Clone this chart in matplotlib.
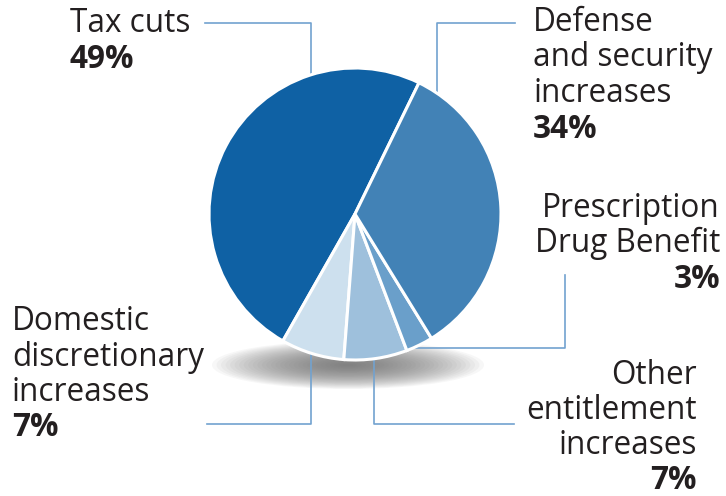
import matplotlib.pyplot as plt
from matplotlib.patches import Ellipse
import numpy as np

# shares of the cost, in pie order (counter-clockwise from the top right)
labels = ['Tax cuts', 'Domestic\ndiscretionary\nincreases', 'Other\nentitlement\nincreases',
          'Prescription\nDrug Benefit', 'Defense\nand security\nincreases']
shares = [49, 7, 7, 3, 34]
colors = ['#0f61a4', '#cde0ee', '#9ec0dc', '#6a9fca', '#4282b6']

W, H = 726, 496
cx, cy, r = 355, H - 214, 146

fig = plt.figure(figsize=(7.26, 4.96), dpi=100)
ax = fig.add_axes([0, 0, 1, 1])

# soft shadow under the pie
for k in range(30):
    f = 1 - k / 30
    ax.add_patch(Ellipse((348, H - 365), 272 * f, 48 * f, color='#6a6a6a',
                         alpha=0.05, lw=0, zorder=0))

wedges, _ = ax.pie(shares, colors=colors, startangle=64, center=(cx, cy), radius=r,
                   wedgeprops=dict(edgecolor='white', linewidth=2.2))
for w in wedges:
    w.set_zorder(2)

ax.set_xlim(0, W)
ax.set_ylim(0, H)
ax.set_aspect('equal')
ax.axis('off')

line_c = '#72a2cf'


def edge_y(x, top):
    d = np.sqrt(r ** 2 - (x - cx) ** 2)
    return cy + d if top else cy - d


def edge_x(y):
    return cx + np.sqrt(r ** 2 - (y - cy) ** 2)


# leader lines (pixel positions from the top)
# tax cuts
ax.plot([205, 311, 311], [H - 23, H - 23, edge_y(311, True)], color=line_c, lw=1.2, zorder=1)
# defense
ax.plot([515, 437, 437], [H - 23, H - 23, edge_y(437, True)], color=line_c, lw=1.2, zorder=1)
# prescription
ax.plot([565, 565, edge_x(H - 348)], [H - 275, H - 348, H - 348], color=line_c, lw=1.2, zorder=1)
# other entitlement
ax.plot([514, 374, 374], [H - 424, H - 424, edge_y(374, False)], color=line_c, lw=1.2, zorder=1)
# domestic
ax.plot([207, 311, 311], [H - 424, H - 424, edge_y(311, False)], color=line_c, lw=1.2, zorder=1)

fam = ['Open Sans', 'DejaVu Sans']
fs = 22.7
tc = '#231f20'


def label(x, y_base, text, pct, ha, lh=36):
    lines = text.split('\n')
    for i, t in enumerate(lines):
        ax.text(x, H - (y_base + i * lh), t, ha=ha, va='baseline', fontsize=fs,
                family=fam, color=tc)
    ax.text(x, H - (y_base + len(lines) * lh), f'{pct}%', ha=ha, va='baseline',
            fontsize=fs, family=fam, weight='bold', color=tc)


label(70, 32, labels[0], shares[0], 'left')
label(533, 31, labels[4], shares[4], 'left', lh=35.5)
label(720, 217, labels[3], shares[3], 'right', lh=35.5)
label(697, 384, labels[2], shares[2], 'right', lh=35)
label(12, 330, labels[1], shares[1], 'left', lh=35.5)

fig.savefig('out.png', dpi=100)
